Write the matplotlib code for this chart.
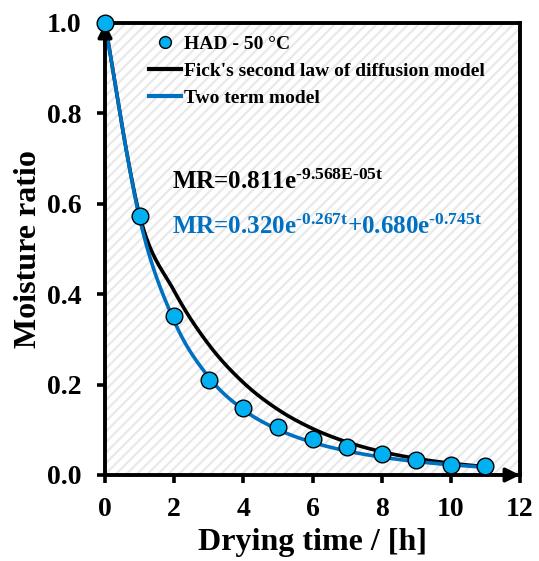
import numpy as np
import matplotlib
matplotlib.use("Agg")
import matplotlib.pyplot as plt
from matplotlib.lines import Line2D
from matplotlib.collections import LineCollection

plt.rcParams['font.family'] = ['Liberation Serif', 'DejaVu Serif']
plt.rcParams['font.weight'] = 'bold'
plt.rcParams['mathtext.fontset'] = 'custom'
plt.rcParams['mathtext.rm'] = 'Liberation Serif:bold'
plt.rcParams['mathtext.bf'] = 'Liberation Serif:bold'
plt.rcParams['mathtext.it'] = 'Liberation Serif:bold'
plt.rcParams['mathtext.default'] = 'bf'

# Measured moisture ratio (HAD - 50 °C)
time_h = [0, 1, 2, 3, 4, 5, 6, 7, 8, 9, 10, 11]
mr_obs = [1.000, 0.572, 0.352, 0.210, 0.148, 0.106, 0.080, 0.062, 0.046, 0.033, 0.023, 0.019]

# Fick's second law model: MR = A * exp(-k * t[s])
fick_A = 0.811
fick_k = 9.568e-5
# Two term model: MR = a exp(-k0 t) + b exp(-k1 t)
tt_a, tt_k0 = 0.320, 0.267
tt_b, tt_k1 = 0.680, 0.745

x_ticks = [0, 2, 4, 6, 8, 10, 12]
y_ticks = [0.0, 0.2, 0.4, 0.6, 0.8, 1.0]

BLUE_LINE = '#0070C0'
BLUE_MARK = '#00B0F0'


def smooth_curve(x, y, n=30):
    """Bezier smoothing through points (spreadsheet-style smoothed line)."""
    x = np.asarray(x, float)
    y = np.asarray(y, float)
    xs, ys = [], []
    m = len(x)
    for i in range(m - 1):
        p0 = np.array([x[i], y[i]])
        p3 = np.array([x[i + 1], y[i + 1]])
        pm = np.array([x[i - 1], y[i - 1]]) if i > 0 else p0
        pp = np.array([x[i + 2], y[i + 2]]) if i + 2 < m else p3
        c1 = p0 + (p3 - pm) / 6.0
        c2 = p3 - (pp - p0) / 6.0
        s = np.linspace(0, 1, n, endpoint=(i == m - 2))
        b = ((1 - s) ** 3)[:, None] * p0 + (3 * (1 - s) ** 2 * s)[:, None] * c1 \
            + (3 * (1 - s) * s ** 2)[:, None] * c2 + (s ** 3)[:, None] * p3
        xs.extend(b[:, 0])
        ys.extend(b[:, 1])
    return np.array(xs), np.array(ys)


t_arr = np.array(time_h, float)
fick_vals = fick_A * np.exp(-fick_k * t_arr * 3600.0)
fick_vals[0] = mr_obs[0]
two_vals = tt_a * np.exp(-tt_k0 * t_arr) + tt_b * np.exp(-tt_k1 * t_arr)

W, H = 539, 561
fig = plt.figure(figsize=(W / 100, H / 100), dpi=100)
ax_l, ax_r, ax_t, ax_b = 105, 520, 23, 475
ax = fig.add_axes([ax_l / W, 1 - ax_b / H, (ax_r - ax_l) / W, (ax_b - ax_t) / H])

# light diagonal hatching of the plot area
aw, ah = ax_r - ax_l, ax_b - ax_t
step = 10.5
segs = []
c = -ah
while c < aw:
    segs.append([((c) / aw, 0.0), ((c + ah) / aw, 1.0)])
    c += step
hatch = LineCollection(segs, colors='#e9e9e9', linewidths=1.6,
                       transform=ax.transAxes, zorder=0.5)
ax.add_collection(hatch)

fx, fy = smooth_curve(time_h, fick_vals)
ax.plot(fx, fy, color='black', lw=2.6, zorder=3)
tx, ty = smooth_curve(time_h, two_vals)
ax.plot(tx, ty, color=BLUE_LINE, lw=2.6, zorder=4)
ax.plot(time_h, mr_obs, 'o', ms=12, mfc=BLUE_MARK, mec='black', mew=1.0,
        zorder=6, clip_on=False)

ax.set_xlim(0, 12)
ax.set_ylim(0, 1.0)
ax.set_xticks(x_ticks)
ax.set_yticks(y_ticks)
ax.set_xticklabels([str(v) for v in x_ticks])
ax.set_yticklabels([f"{v:.1f}" for v in y_ticks])
ax.tick_params(axis='both', direction='out', length=6, width=2.6, labelsize=20)
ax.tick_params(axis='y', pad=11)
ax.tick_params(axis='x', pad=10)
for lab in ax.get_xticklabels() + ax.get_yticklabels():
    lab.set_fontweight('bold')
for sp in ax.spines.values():
    sp.set_linewidth(2.8)

ax.set_xlabel('Drying time / [h]', fontsize=23, fontweight='bold', labelpad=4)
ax.set_ylabel('Moisture ratio', fontsize=23, fontweight='bold', labelpad=3)

# axis arrows
ax.annotate('', xy=(0, 1.0), xytext=(0, 0.95), xycoords='data',
            arrowprops=dict(arrowstyle='-|>,head_length=0.85,head_width=0.42',
                            color='black', lw=2.5, shrinkA=0, shrinkB=0),
            annotation_clip=False, zorder=5)
ax.annotate('', xy=(12, 0), xytext=(11.5, 0), xycoords='data',
            arrowprops=dict(arrowstyle='-|>,head_length=0.85,head_width=0.42',
                            color='black', lw=2.5, shrinkA=0, shrinkB=0),
            annotation_clip=False, zorder=5)

handles = [
    Line2D([], [], ls='none', marker='o', ms=8.5, mfc=BLUE_MARK, mec='black', mew=1.0),
    Line2D([], [], color='black', lw=3),
    Line2D([], [], color=BLUE_LINE, lw=3),
]
labels = ['HAD - 50 °C', "Fick's second law of diffusion model", 'Two term model']
ax.legend(handles, labels, loc='upper left', bbox_to_anchor=(0.065, 1.012),
          frameon=False, prop={'weight': 'bold', 'size': 14},
          handlelength=1.6, handletextpad=0.2, labelspacing=0.48)

ax.text(0.162, 0.632, r'MR=0.811e$^{\text{-9.568E-05t}}$', transform=ax.transAxes,
        fontsize=18, fontweight='bold', color='black', va='baseline')
ax.text(0.162, 0.533, r'MR=0.320e$^{\text{-0.267t}}$+0.680e$^{\text{-0.745t}}$',
        transform=ax.transAxes, fontsize=18, fontweight='bold', color=BLUE_LINE,
        va='baseline')

fig.savefig('out.png', dpi=100)
